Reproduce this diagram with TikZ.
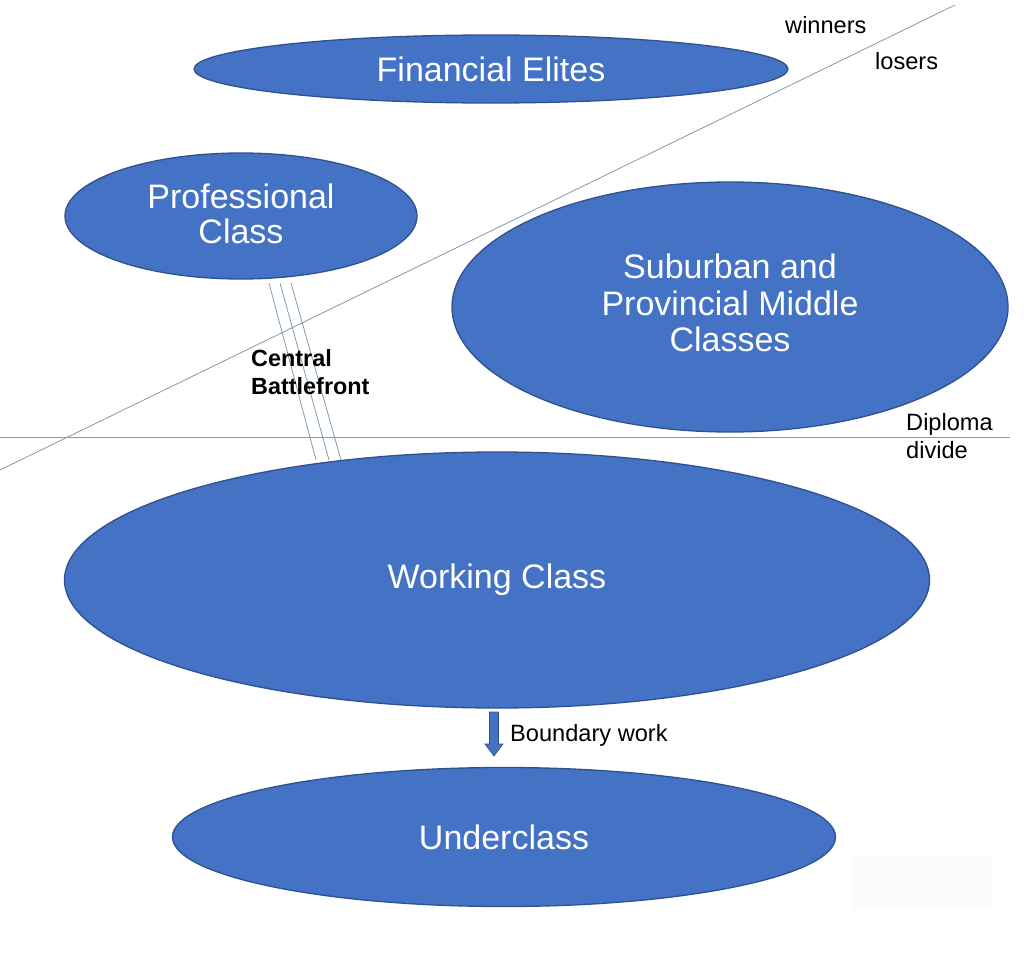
\documentclass[tikz,border=0pt]{standalone}
\usepackage{fontspec}
\setmainfont{Liberation Sans}
\usetikzlibrary{shapes.geometric}
\definecolor{blobfill}{HTML}{4472C4}
\definecolor{blobdraw}{HTML}{2F528F}
\definecolor{thinline}{HTML}{7F9AB2}
\tikzset{
  blob/.style={ellipse, fill=blobfill, draw=blobdraw, line width=1.3pt, inner sep=0pt,
    text=white, align=center, font=\fontsize{34}{36}\selectfont},
  blobtext/.style={text=white, align=center, inner sep=0pt},
  guide/.style={draw=thinline, line width=0.8pt},
  lbl/.style={inner sep=0pt, anchor=west, align=left, font=\fontsize{23.6}{28}\selectfont}
}
\begin{document}
\begin{tikzpicture}[x=1pt,y=-1pt]
\useasboundingbox (0,0) rectangle (1033,974);
\fill[black!1.5] (853,857) rectangle (992,910);
% guides
\coordinate (dA) at (0,470);
\coordinate (dB) at (955,5);
\coordinate (hA) at (0,437);
\coordinate (hB) at (1010,437);
\draw[guide] (dA) -- (dB);
\draw[guide] (hA) -- (hB);
% ellipses
\node[blob, minimum width=594, minimum height=68] (fe) at (491,69) {Financial Elites};
\node[blob, minimum width=352, minimum height=126] (pc) at (241,216) {};
\node[blobtext, font=\fontsize{34}{35}\selectfont] (pct) at (241,214) {Professional\\Class};
\node[blob, minimum width=556, minimum height=250] (sp) at (730,307) {};
\node[blobtext, font=\fontsize{34}{36.5}\selectfont] (spt) at (730,303) {Suburban and\\Provincial Middle\\Classes};
\node[blob, minimum width=865, minimum height=256] (wc) at (497,580) {Working Class};
\node[blob, minimum width=663, minimum height=139] (uc) at (504,837) {Underclass};
% battlefront lines
\coordinate (t1) at (269,283);
\coordinate (t2) at (280,283);
\coordinate (t3) at (291,283);
\coordinate (b1) at (316,460);
\coordinate (b2) at (329,460);
\coordinate (b3) at (341,460);
\draw[guide] (t1) -- (b1);
\draw[guide] (t2) -- (b2);
\draw[guide] (t3) -- (b3);
% labels
\node[lbl, font=\bfseries\fontsize{23.4}{28}\selectfont] (cb) at (251,372) {Central\\Battlefront};
\node[lbl] (win) at (785,25) {winners};
\node[lbl] (los) at (875,61) {losers};
\node[lbl] (dd) at (906,436) {Diploma\\divide};
\node[lbl] (bw) at (510,735) {Boundary work};
% arrow
\coordinate (ar) at (494,712);
\fill[blobfill, draw=blobdraw, line width=0.6pt]
  (489.5,712) -- (498.5,712) -- (498.5,744) -- (503,744) -- (494,756) -- (485,744) -- (489.5,744) -- cycle;
\end{tikzpicture}
\end{document}
